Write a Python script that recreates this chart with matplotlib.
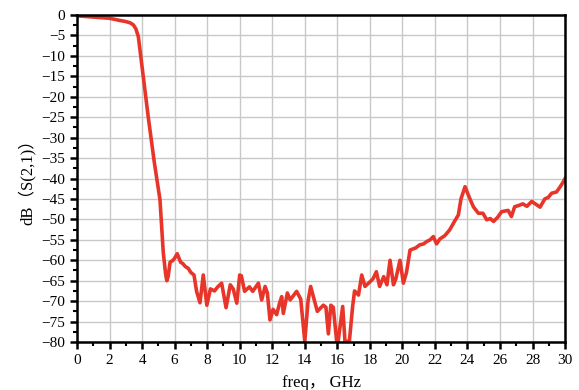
import matplotlib.pyplot as plt
from matplotlib.ticker import MultipleLocator

# S21 trace
freq = [0.0, 1.0, 2.0, 2.6, 3.0, 3.26, 3.46, 3.62, 3.77, 3.97, 4.38, 4.75, 5.1, 5.3, 5.45,
        5.52, 5.6, 5.72, 5.9, 6.0, 6.16, 6.37, 6.5, 6.65, 6.84,
        7.0, 7.19, 7.35, 7.56, 7.76, 7.98, 8.2, 8.45, 8.65, 8.89, 9.16, 9.42, 9.6,
        9.82, 10.0, 10.1, 10.3, 10.6, 10.8, 11.15, 11.35, 11.56, 11.7, 11.86, 12.05,
        12.27, 12.45, 12.58, 12.68, 12.93, 13.1, 13.5, 13.75, 14.0, 14.2, 14.36,
        14.6, 14.77, 15.14, 15.3, 15.45, 15.6, 15.75, 15.96, 16.05, 16.33, 16.47, 16.74, 16.94,
        17.06, 17.3, 17.5, 17.7, 18.0, 18.2, 18.4, 18.6, 18.85, 19.05, 19.24, 19.45,
        19.6, 19.85, 20.06, 20.25, 20.47, 20.8, 21.08, 21.3, 21.5, 21.7, 21.9, 22.1,
        22.3, 22.6, 22.9, 23.2, 23.44, 23.6, 23.85, 24.1, 24.36, 24.67, 24.95, 25.18,
        25.4, 25.6, 25.85, 26.1, 26.5, 26.7, 26.9, 27.15, 27.4, 27.65, 27.95, 28.2,
        28.46, 28.75, 28.97, 29.17, 29.47, 29.7, 29.89, 30.0]
s21 = [-0.2, -0.5, -0.8, -1.3, -1.6, -1.9, -2.4, -3.4, -5.3, -11.8, -25.0, -36.0, -45.2, -58.0, -63.5,
       -65.0, -64.0, -60.5, -60.0, -59.5, -58.4, -60.5, -60.8, -61.5, -62.0,
       -63.0, -63.6, -67.6, -70.4, -63.6, -71.0, -67.0, -67.5, -66.5, -65.6, -71.6, -66.0, -67.0,
       -70.5, -63.6, -63.8, -67.6, -66.5, -67.6, -65.6, -69.7, -66.4, -68.0, -74.6, -72.0,
       -73.3, -70.5, -68.9, -73.0, -68.0, -69.7, -67.6, -69.5, -79.8, -70.0, -66.4,
       -70.0, -72.5, -71.0, -71.5, -78.0, -71.0, -71.5, -79.8, -79.8, -71.3, -79.8, -79.8, -71.3,
       -67.5, -68.5, -63.6, -66.4, -65.3, -64.5, -62.8, -66.4, -64.0, -66.0, -60.0, -66.0,
       -64.5, -60.0, -65.6, -63.0, -57.5, -57.0, -56.2, -56.0, -55.4, -55.0, -54.2, -56.0,
       -54.8, -54.0, -52.6, -50.5, -48.9, -45.0, -42.0, -44.5, -46.9, -48.5, -48.5, -50.1,
       -49.8, -50.5, -49.5, -48.1, -47.8, -49.3, -46.9, -46.6, -46.2, -46.8, -45.6, -46.3,
       -47.0, -45.0, -44.6, -43.6, -43.3, -42.0, -40.8, -40.0]

xticks = list(range(0, 31, 2))
yticks = list(range(-80, 1, 5))

plt.rcParams['font.family'] = ['Liberation Serif', 'Noto Sans CJK SC']

fig = plt.figure(figsize=(5.79, 3.90), dpi=100)
ax = fig.add_axes([0.133, 0.123, 0.843, 0.8385])

ax.plot(freq, s21, color='#e8352a', linewidth=2.6, solid_joinstyle='round')

ax.set_xlim(0, 30)
ax.set_ylim(-80, 0)
ax.set_xticks(xticks)
ax.set_yticks(yticks)
ax.xaxis.set_minor_locator(MultipleLocator(1))
ax.yaxis.set_minor_locator(MultipleLocator(2.5))
ax.grid(True, which='major', color='#c8c8c8', linewidth=1.0)
ax.set_axisbelow(True)

for sp in ax.spines.values():
    sp.set_linewidth(1.8)
ax.tick_params(which='major', direction='out', length=5, width=1.8, labelsize=11)
ax.tick_params(which='minor', direction='out', length=3, width=1.5)
ax.tick_params(top=False, right=False)

ax.set_xlabel('freq， GHz', fontsize=12, labelpad=6)
ax.set_ylabel('dB（S(2,1)）', fontsize=12, labelpad=4)

fig.savefig('out.png', dpi=100)
